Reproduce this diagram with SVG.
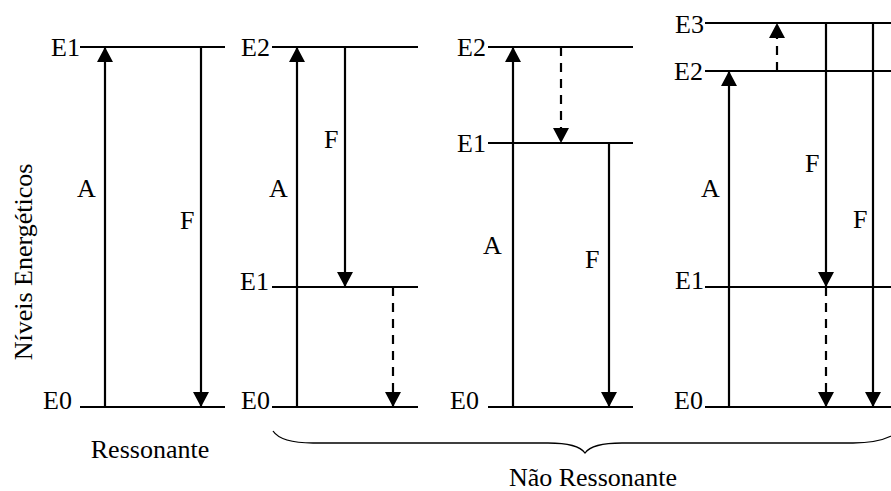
<svg xmlns="http://www.w3.org/2000/svg" width="891" height="491" viewBox="0 0 891 491">
<defs>
<style>
text{font-family:"Liberation Serif","Times New Roman","DejaVu Serif",serif;font-size:26px;fill:#000}
.lv{stroke:#000;stroke-width:2.2;fill:none}
.ar{stroke:#000;stroke-width:2.2;fill:none;marker-end:url(#ah)}
.da{stroke:#000;stroke-width:2.2;fill:none;stroke-dasharray:9 7;marker-end:url(#ah)}
.brace{stroke:#000;stroke-width:1.3;fill:none}
.lb{text-anchor:end}
</style>
<marker id="ah" markerUnits="userSpaceOnUse" markerWidth="16" markerHeight="16" viewBox="0 0 16 16" refX="15" refY="8" orient="auto">
<path d="M0,0 L15,8 L0,16 Z" fill="#000"/>
</marker>
</defs>
<rect width="891" height="491" fill="#fff"/>
<text transform="translate(32,262) rotate(-90)" text-anchor="middle">Níveis Energéticos</text>

<g id="panel1">
<line class="lv" x1="80" y1="47" x2="225" y2="47"/>
<line class="lv" x1="80" y1="407" x2="225" y2="407"/>
<text class="lb" x="80" y="56">E1</text>
<text class="lb" x="72" y="409">E0</text>
<text x="77" y="197">A</text>
<text x="180" y="229">F</text>
<text x="150" y="458" text-anchor="middle">Ressonante</text>
</g>

<g id="panel2">
<line class="lv" x1="272" y1="47" x2="418" y2="47"/>
<line class="lv" x1="272" y1="287" x2="418" y2="287"/>
<line class="lv" x1="272" y1="407" x2="418" y2="407"/>
<text class="lb" x="270" y="56">E2</text>
<text class="lb" x="269" y="290">E1</text>
<text class="lb" x="270" y="409">E0</text>
<text x="269" y="197">A</text>
<text x="324" y="148">F</text>
</g>

<g id="panel3">
<line class="lv" x1="488" y1="47" x2="633" y2="47"/>
<line class="lv" x1="488" y1="143" x2="633" y2="143"/>
<line class="lv" x1="488" y1="407" x2="633" y2="407"/>
<text class="lb" x="486" y="56">E2</text>
<text class="lb" x="486" y="152">E1</text>
<text class="lb" x="479" y="409">E0</text>
<text x="483" y="254">A</text>
<text x="585" y="268">F</text>
</g>

<g id="panel4">
<line class="lv" x1="705" y1="23" x2="891" y2="23"/>
<line class="lv" x1="705" y1="71" x2="891" y2="71"/>
<line class="lv" x1="705" y1="287" x2="891" y2="287"/>
<line class="lv" x1="705" y1="407" x2="891" y2="407"/>
<text class="lb" x="704" y="33">E3</text>
<text class="lb" x="703" y="80">E2</text>
<text class="lb" x="704" y="289">E1</text>
<text class="lb" x="703" y="409">E0</text>
<text x="701" y="197">A</text>
<text x="805" y="172">F</text>
<text x="853" y="228">F</text>
</g>

<g id="connectors">
<line class="ar" x1="105" y1="407" x2="105" y2="47"/>
<line class="ar" x1="201" y1="47" x2="201" y2="407"/>
<line class="ar" x1="297" y1="407" x2="297" y2="47"/>
<line class="ar" x1="345" y1="47" x2="345" y2="287"/>
<line class="da" x1="393" y1="287" x2="393" y2="407"/>
<line class="ar" x1="513" y1="407" x2="513" y2="47"/>
<line class="da" x1="561" y1="47" x2="561" y2="143"/>
<line class="ar" x1="609" y1="143" x2="609" y2="407"/>
<line class="ar" x1="729" y1="407" x2="729" y2="71"/>
<line class="da" x1="777" y1="71" x2="777" y2="23"/>
<line class="ar" x1="826" y1="23" x2="826" y2="287"/>
<line class="da" x1="826" y1="287" x2="826" y2="407"/>
<line class="ar" x1="873" y1="23" x2="873" y2="407"/>
</g>

<g id="brace">
<path class="brace" d="M273,431 Q281,443 313,443 L548,443 Q578,443 585,453 Q592,443 622,443 L853,443 Q880,443 895,434"/>
<text x="593" y="486" text-anchor="middle">Não Ressonante</text>
</g>
</svg>
